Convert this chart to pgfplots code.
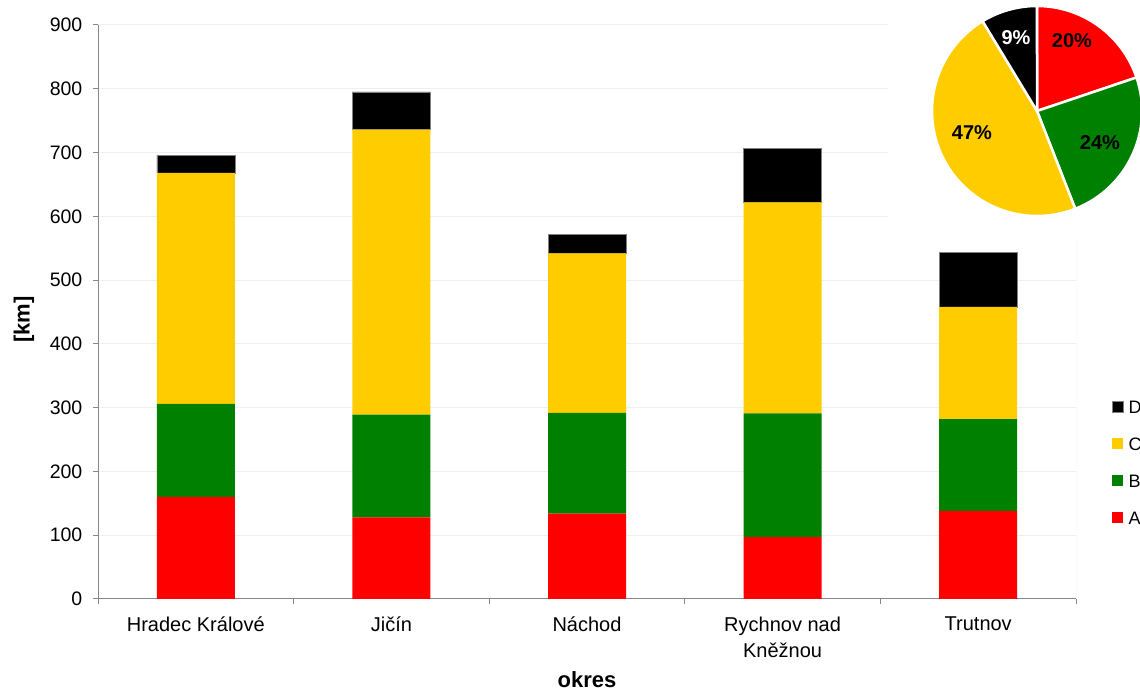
\documentclass[border=0pt]{standalone}
\usepackage{pgfplots}
\pgfplotsset{compat=1.18}
\usepackage{fontspec}
\setmainfont{Liberation Sans}
\definecolor{cA}{HTML}{FF0000}
\definecolor{cB}{HTML}{008000}
\definecolor{cC}{HTML}{FFCC00}
\definecolor{cD}{HTML}{000000}
\definecolor{axgray}{HTML}{888888}
\definecolor{gridgray}{HTML}{EFEFEF}
\definecolor{bordergray}{HTML}{D9D9D9}
\begin{document}
\begin{tikzpicture}[x=1bp,y=1bp]
\useasboundingbox (0,0) rectangle (1140,691);
\begin{axis}[
  at={(98bp,92bp)}, anchor=south west,
  width=978bp, height=574bp, scale only axis,
  ybar stacked, bar width=78bp,
  xmin=-0.5, xmax=4.5, ymin=0, ymax=900,
  axis lines*=left,
  axis line style={axgray, line width=1bp, -},
  ytick={0,100,...,900},
  xtick={0,1,2,3,4},
  xticklabels={Hradec Králové, Jičín, Náchod, {Rychnov nad\\Kněžnou}, Trutnov},
  minor xtick={-0.5,0.5,...,4.5},
  tick align=outside,
  major tick length=5bp, minor tick length=5bp,
  tick style={axgray, line width=1bp},
  major x tick style={draw=none},
  ymajorgrids, grid style={gridgray, line width=1bp},
  /pgf/number format/assume math mode=true,
  yticklabel style={font=\fontsize{19.5bp}{22bp}\selectfont, inner sep=0pt, xshift=-10.5bp},
  xticklabel style={font=\fontsize{20bp}{26bp}\selectfont, align=center, anchor=north, inner sep=0pt, yshift=-13bp},
  xlabel={okres}, ylabel={[km]},
  xlabel style={font=\fontsize{22bp}{24bp}\selectfont\bfseries, at={(axis description cs:0.5,-0.141)}, anchor=center},
  ylabel style={font=\fontsize{22bp}{24bp}\selectfont\bfseries, at={(axis description cs:-0.0757,0.487)}, anchor=center},
  legend image code/.code={\fill[#1] (0bp,-4.5bp) rectangle (11bp,6.5bp);},
  reverse legend,
  legend style={draw=none, fill=none, inner sep=0pt, at={(axis description cs:1.0368,0.346)}, anchor=north west,
    font=\fontsize{18bp}{20bp}\selectfont, row sep=24bp,
    nodes={inner sep=0pt, text height=13bp, text depth=0bp},
    /tikz/every odd column/.append style={column sep=5bp}},
  legend cell align=left,
]
\addplot+[fill=cA, draw=none] coordinates {(0,160) (1,128) (2,134) (3,97) (4,138)};
\addplot+[fill=cB, draw=none] coordinates {(0,146) (1,161) (2,158) (3,194) (4,144)};
\addplot+[fill=cC, draw=none] coordinates {(0,362) (1,447) (2,250) (3,331) (4,176)};
\addplot+[fill=cD, draw=gray, line width=0.5bp] coordinates {(0,28) (1,59) (2,30) (3,85) (4,85)};
\legend{A,B,C,D}
\draw[bordergray, line width=1bp] (rel axis cs:1,0) -- (rel axis cs:1,1);
\end{axis}
% pie chart (share of total length by category)
\fill[white] (888,453) rectangle (1140,691);
\pgfmathsetmacro\tot{657+803+1566+287}
\pgfmathsetmacro\aA{90}
\pgfmathsetmacro\aB{\aA-657/\tot*360}
\pgfmathsetmacro\aC{\aB-803/\tot*360}
\pgfmathsetmacro\aD{\aC-1566/\tot*360}
\pgfmathsetmacro\aE{\aD-287/\tot*360}
\def\cx{1037}\def\cy{580}\def\r{105}
\filldraw[fill=cA, draw=white, line width=2.5bp, line join=round] (\cx,\cy) -- ++(\aA:\r) arc[start angle=\aA, end angle=\aB, radius=\r] -- cycle;
\filldraw[fill=cB, draw=white, line width=2.5bp, line join=round] (\cx,\cy) -- ++(\aB:\r) arc[start angle=\aB, end angle=\aC, radius=\r] -- cycle;
\filldraw[fill=cC, draw=white, line width=2.5bp, line join=round] (\cx,\cy) -- ++(\aC:\r) arc[start angle=\aC, end angle=\aD, radius=\r] -- cycle;
\filldraw[fill=cD, draw=white, line width=2.5bp, line join=round] (\cx,\cy) -- ++(\aD:\r) arc[start angle=\aD, end angle=\aE, radius=\r] -- cycle;
\begin{scope}[every node/.style={font=\fontsize{20bp}{22bp}\selectfont\bfseries, inner sep=0pt}]
\node at (1072,650) {20\%};
\node[white] at (1016,653) {9\%};
\node at (1100,548) {24\%};
\node at (972,558) {47\%};
\end{scope}
\end{tikzpicture}
\end{document}
